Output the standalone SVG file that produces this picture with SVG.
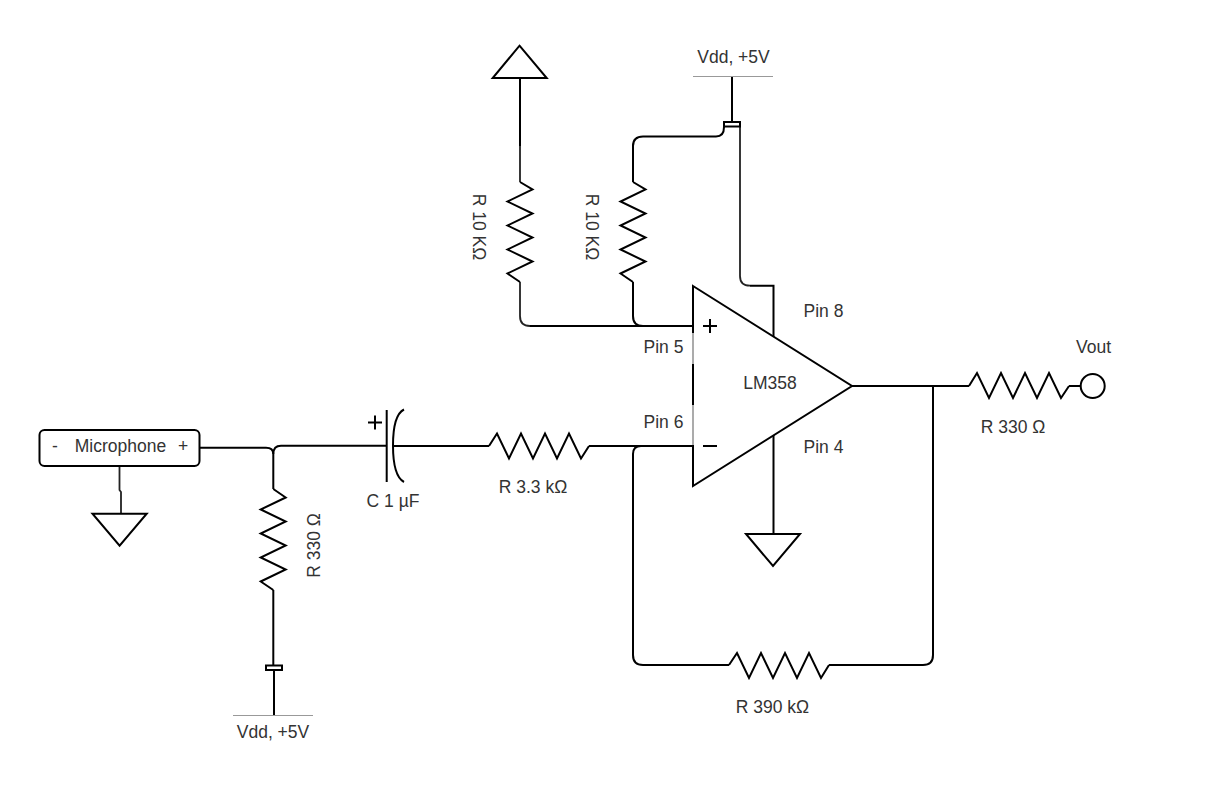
<svg xmlns="http://www.w3.org/2000/svg" width="1213" height="792" viewBox="0 0 1213 792">
<style>
text{font-family:"Liberation Sans",Arial,sans-serif;font-size:17.5px;fill:#333;text-anchor:middle}
.w{fill:none;stroke:#000;stroke-width:2}
.t{fill:none;stroke:#000;stroke-width:2;stroke-linejoin:miter}
.s{fill:none;stroke:#222;stroke-width:1.800}
.g{fill:none;stroke:#999;stroke-width:1}
.p{fill:none;stroke:#888;stroke-width:1.400}
.f{fill:#fff;stroke:#000;stroke-width:2}
</style>
<rect width="1213" height="792" fill="#fff"/>
<g id="connectors">
<path class="w" d="M520 78V146"/>
<path class="s" d="M520 146V182M520 282V316Q520 326 530 326"/>
<path class="w" d="M530 326H697"/>
<path class="w" d="M633 182V146Q633 136.500 643 136.500H716Q724 136.500 724 127"/>
<path class="w" d="M633 282V316Q633 326 643 326"/>
<path class="w" d="M732 76V122"/>
<path class="s" d="M740 127V276Q740 285.700 750 285.700"/>
<path class="w" d="M750 285.700H773.500V339"/>
<path class="w" d="M773.500 433V534"/>
<path class="w" d="M852 386H969"/>
<path class="w" d="M1069 386H1081"/>
<path class="w" d="M933 386V655Q933 665 923 665H829"/>
<path class="w" d="M589 446H697"/>
<path class="w" d="M641 446Q633 446 633 454V655Q633 665 643 665H729"/>
<path class="w" d="M200 447.700H266Q273.300 447.700 273.300 454V489"/>
<path class="w" d="M273.300 454Q273.300 445.700 281 445.700H387"/>
<path class="w" d="M393 446H489"/>
<path class="w" d="M273.300 590V665"/>
<path class="w" d="M274 670V715"/>
<path class="s" d="M119.500 466V490L121 492V513"/>
</g>
<g id="opamp">
<path class="f" d="M693 286L852 386L693 486Z"/>
<path fill="none" stroke="#fff" stroke-width="2.500" d="M693 333V364M693 405V445"/>
<path class="p" d="M693 333V364M693 405V445"/>
<path class="w" d="M703 326H717M710 319V333M703 446H717"/>
<text x="770" y="388.500">LM358</text>
<text x="663.500" y="353">Pin 5</text>
<text x="663.500" y="428">Pin 6</text>
<text x="823.500" y="317">Pin 8</text>
<text x="823.500" y="452.500">Pin 4</text>
</g>
<g id="mic">
<rect class="w" x="39.500" y="430" width="160" height="36" rx="5"/>
<text x="55" y="452">-</text>
<text x="120.500" y="452">Microphone</text>
<text x="183" y="452">+</text>
</g>
<g id="gnd-mic"><path class="f" d="M92.500 513.700H146.700L119.600 545.700Z"/></g>
<g id="gnd-top"><path class="f" d="M519.500 45.700L546.700 78H492.700Z"/></g>
<g id="gnd-pin4"><path class="f" d="M746 534H800L773 566Z"/></g>
<g id="r-mic">
<path class="t" d="M273.300 489L285.700 497.500L260.700 509.500L285.700 521.500L260.700 533.500L285.700 545.500L260.700 557.500L285.700 569.500L260.700 581.500L273.300 590"/>
<text transform="translate(320 545.500) rotate(-90)">R 330 Ω</text>
</g>
<g id="r-10k-a">
<path class="t" d="M520 182L532.500 189.500L507.500 201.500L532.500 213.500L507.500 225.500L532.500 237.500L507.500 249.500L532.500 261.500L507.500 273.500L520 282"/>
<text transform="translate(472.700 227) rotate(90)">R 10 KΩ</text>
</g>
<g id="r-10k-b">
<path class="t" d="M633 182L645.500 189.500L620.500 201.500L645.500 213.500L620.500 225.500L645.500 237.500L620.500 249.500L645.500 261.500L620.500 273.500L633 282"/>
<text transform="translate(586 227) rotate(90)">R 10 KΩ</text>
</g>
<g id="r-33k">
<path class="t" d="M489 446L497 433.500L509 458.500L521 433.500L533 458.500L545 433.500L557 458.500L569 433.500L581 458.500L589 446"/>
<text x="533" y="493">R 3.3 kΩ</text>
</g>
<g id="r-390k">
<path class="t" d="M729 665L737 653L749 678L761 653L773 678L785 653L797 678L809 653L821 678L829 665"/>
<text x="772.500" y="712.500">R 390 kΩ</text>
</g>
<g id="r-out">
<path class="t" d="M969 386L977 373L989 398L1001 373L1013 398L1025 373L1037 398L1049 373L1061 398L1069 386"/>
<text x="1013" y="432.500">R 330 Ω</text>
</g>
<g id="vout">
<circle class="w" cx="1092.700" cy="386" r="12"/>
<text x="1093.500" y="352.500">Vout</text>
</g>
<g id="cap">
<path class="w" d="M386.700 410V482M404 409.500Q393 415 393 445.500Q393 476 404 482M368 422.500H382M375 415.500V429.500"/>
<text x="393" y="506.500">C 1 µF</text>
</g>
<g id="vdd-top">
<path class="g" d="M693 76.500H773"/>
<rect class="w" x="724" y="122" width="16" height="4.500"/>
<text x="733.500" y="62.500">Vdd, +5V</text>
</g>
<g id="vdd-bottom">
<path class="g" d="M233 715.500H313"/>
<rect class="w" x="266" y="665.500" width="16" height="4.500"/>
<text x="273" y="737.500">Vdd, +5V</text>
</g>
</svg>
